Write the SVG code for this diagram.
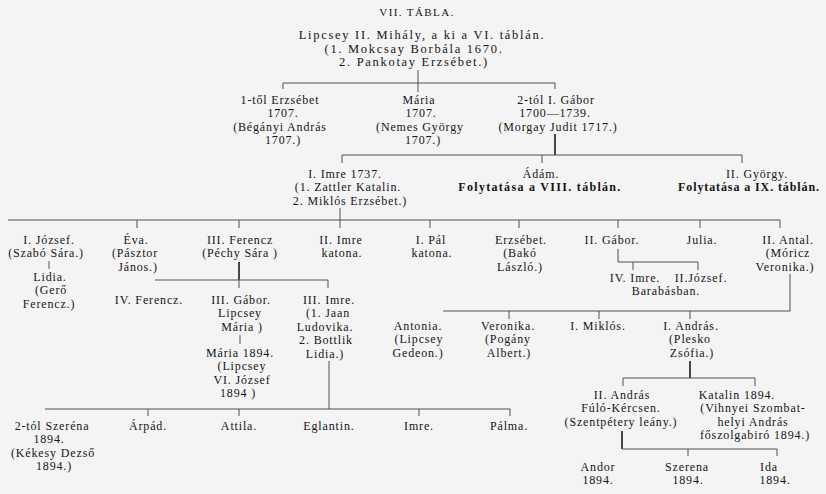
<svg xmlns="http://www.w3.org/2000/svg" width="826" height="494" viewBox="0 0 826 494">
<style>
text{font-family:"Liberation Serif","DejaVu Serif",serif;font-size:12px;fill:#141414;text-anchor:middle;letter-spacing:0.85px}
.t{font-size:11px;letter-spacing:1.4px}
.r{font-size:12.5px;letter-spacing:1.7px}
.b{font-weight:bold;letter-spacing:1.3px}
.b2{font-weight:bold;letter-spacing:0.9px}
.c line{stroke:#505050;stroke-width:1}
.c line.k{stroke:#2a2a2a;stroke-width:1.7}
</style>
<rect width="826" height="494" fill="#f4f4f4"/>
<text class="t" x="417" y="16">VII. TÁBLA.</text>
<g class="c" id="connectors">
<line x1="418" y1="70" x2="418" y2="92"/>
<line x1="283" y1="83" x2="555" y2="83"/>
<line x1="283" y1="83" x2="283" y2="89"/>
<line x1="555" y1="83" x2="555" y2="89"/>
<line class="k" x1="555" y1="134" x2="555" y2="155"/>
<line x1="342" y1="155" x2="742" y2="155"/>
<line x1="342" y1="155" x2="342" y2="163"/>
<line x1="542" y1="155" x2="542" y2="163"/>
<line x1="742" y1="155" x2="742" y2="163"/>
<line x1="340" y1="208" x2="340" y2="228"/>
<line x1="8" y1="220" x2="780" y2="220"/>
<line x1="137" y1="220" x2="137" y2="228"/>
<line x1="239" y1="220" x2="239" y2="228"/>
<line x1="430" y1="220" x2="430" y2="228"/>
<line x1="519" y1="220" x2="519" y2="228"/>
<line x1="618" y1="220" x2="618" y2="228"/>
<line x1="700" y1="220" x2="700" y2="228"/>
<line x1="780" y1="220" x2="780" y2="228"/>
<line x1="49" y1="261" x2="49" y2="269"/>
<line class="k" x1="239" y1="262" x2="239" y2="280"/>
<line x1="155" y1="280" x2="328" y2="280"/>
<line x1="239" y1="280" x2="239" y2="288"/>
<line x1="328" y1="280" x2="328" y2="288"/>
<line x1="618" y1="249" x2="618" y2="262"/>
<line x1="618" y1="262" x2="698" y2="262"/>
<line x1="633" y1="262" x2="633" y2="270"/>
<line x1="698" y1="262" x2="698" y2="270"/>
<line x1="790" y1="274" x2="790" y2="311"/>
<line x1="443" y1="311" x2="790" y2="311"/>
<line x1="509" y1="311" x2="509" y2="319"/>
<line x1="599" y1="311" x2="599" y2="319"/>
<line x1="690" y1="311" x2="690" y2="319"/>
<line class="k" x1="690" y1="361" x2="690" y2="378"/>
<line x1="623" y1="378" x2="755" y2="378"/>
<line x1="623" y1="378" x2="623" y2="386"/>
<line x1="755" y1="378" x2="755" y2="386"/>
<line x1="240" y1="335" x2="240" y2="344"/>
<line x1="329" y1="361" x2="329" y2="409"/>
<line x1="45" y1="409" x2="510" y2="409"/>
<line x1="148" y1="409" x2="148" y2="416"/>
<line x1="239" y1="409" x2="239" y2="416"/>
<line x1="419" y1="409" x2="419" y2="416"/>
<line x1="510" y1="409" x2="510" y2="416"/>
<line class="k" x1="622" y1="431" x2="622" y2="449"/>
<line x1="622" y1="449" x2="777" y2="449"/>
<line x1="688" y1="449" x2="688" y2="456"/>
<line x1="777" y1="449" x2="777" y2="456"/>
</g>
<g id="root"><text class="r" x="422" y="39">Lipcsey II. Mihály, a ki a VI. táblán.</text><text class="r" x="414" y="52.5">(1. Mokcsay Borbála 1670.</text><text class="r" x="414" y="66">2. Pankotay Erzsébet.)</text></g>
<g id="erzsebet1"><text x="280" y="104">1-től Erzsébet</text><text x="283" y="117.4">1707.</text><text x="280" y="130.8">(Bégányi András</text><text x="283" y="144.2">1707.)</text></g>
<g id="maria1"><text x="419" y="104">Mária</text><text x="421" y="117.4">1707.</text><text x="420" y="130.8">(Nemes György</text><text x="423" y="144.2">1707.)</text></g>
<g id="gabor1"><text x="556" y="104">2-tól I. Gábor</text><text x="555" y="117.4">1700—1739.</text><text x="558" y="130.8">(Morgay Judit 1717.)</text></g>
<g id="imre1"><text x="345" y="178">I. Imre 1737.</text><text x="348" y="191.4">(1. Zattler Katalin.</text><text x="350" y="204.8">2. Miklós Erzsébet.)</text></g>
<g id="adam"><text x="541" y="178">Ádám.</text><text class="b" x="540" y="191.4">Folytatása a VIII. táblán.</text></g>
<g id="gyorgy2"><text x="757" y="178">II. György.</text><text class="b2" x="749" y="191.4">Folytatása a IX. táblán.</text></g>
<g id="jozsef1"><text x="49" y="244">I. József.</text><text x="46" y="257.4">(Szabó Sára.)</text></g>
<g id="lidia1"><text x="50" y="281">Lidia.</text><text x="51" y="294.4">(Gerő</text><text x="49" y="307.8">Ferencz.)</text></g>
<g id="eva"><text x="136" y="244">Éva.</text><text x="135" y="257.4">(Pásztor</text><text x="138" y="270.8">János.)</text></g>
<g id="ferencz3"><text x="240" y="244">III. Ferencz</text><text x="240" y="257.4">(Péchy Sára )</text></g>
<g id="imre2"><text x="341" y="244">II. Imre</text><text x="342" y="257.4">katona.</text></g>
<g id="pal1"><text x="431" y="244">I. Pál</text><text x="432" y="257.4">katona.</text></g>
<g id="erzsebet4"><text x="521" y="244">Erzsébet.</text><text x="520" y="257.4">(Bakó</text><text x="520" y="270.8">László.)</text></g>
<g id="gabor2"><text x="612" y="244">II. Gábor.</text></g>
<g id="julia"><text x="702" y="244">Julia.</text></g>
<g id="antal2"><text x="788" y="244">II. Antal.</text><text x="788" y="257.4">(Móricz</text><text x="785" y="270.8">Veronika.)</text></g>
<g id="imre4"><text x="635" y="282">IV. Imre.</text></g>
<g id="jozsef2"><text x="701" y="282">II.József.</text><text x="666" y="295.4">Barabásban.</text></g>
<g id="ferencz4"><text x="149" y="304">IV. Ferencz.</text></g>
<g id="gabor3"><text x="241" y="304">III. Gábor.</text><text x="240" y="317.4">Lipcsey</text><text x="242" y="330.8">Mária )</text></g>
<g id="imre3"><text x="329" y="304">III. Imre.</text><text x="328" y="317.4">(1. Jaan</text><text x="325" y="330.8">Ludovika.</text><text x="326" y="344.2">2. Bottlik</text><text x="325" y="357.6">Lidia.)</text></g>
<g id="maria1894"><text x="240" y="357">Mária 1894.</text><text x="242" y="370.4">(Lipcsey</text><text x="242" y="383.8">VI. József</text><text x="238" y="397.2">1894 )</text></g>
<g id="antonia"><text x="418" y="330">Antonia.</text><text x="419" y="343.4">(Lipcsey</text><text x="418" y="356.8">Gedeon.)</text></g>
<g id="veronika"><text x="508" y="330">Veronika.</text><text x="508" y="343.4">(Pogány</text><text x="509" y="356.8">Albert.)</text></g>
<g id="miklos"><text x="598" y="330">I. Miklós.</text></g>
<g id="andras1"><text x="691" y="330">I. András.</text><text x="690" y="343.4">(Plesko</text><text x="692" y="356.8">Zsófia.)</text></g>
<g id="andras2"><text x="622" y="399">II. András</text><text x="621" y="412.4">Fúló-Kércsen.</text><text x="621" y="425.8">(Szentpétery leány.)</text></g>
<g id="katalin"><text x="737" y="399">Katalin 1894.</text><text x="753" y="412.4">(Vihnyei Szombat-</text><text x="753" y="425.8">helyi András</text><text x="755" y="439.2">főszolgabiró 1894.)</text></g>
<g id="szerena1"><text x="52" y="430">2-tól Szeréna</text><text x="49" y="443.4">1894.</text><text x="53" y="456.8">(Kékesy Dezső</text><text x="54" y="470.2">1894.)</text></g>
<g id="arpad"><text x="148" y="430">Árpád.</text></g>
<g id="attila"><text x="239" y="430">Attila.</text></g>
<g id="eglantin"><text x="329" y="430">Eglantin.</text></g>
<g id="imre5"><text x="419" y="430">Imre.</text></g>
<g id="palma"><text x="509" y="430">Pálma.</text></g>
<g id="andor"><text x="598" y="471">Andor</text><text x="598" y="484.4">1894.</text></g>
<g id="szerena2"><text x="687" y="471">Szerena</text><text x="688" y="484.4">1894.</text></g>
<g id="ida"><text x="769" y="471">Ida</text><text x="775" y="484.4">1894.</text></g>
</svg>
